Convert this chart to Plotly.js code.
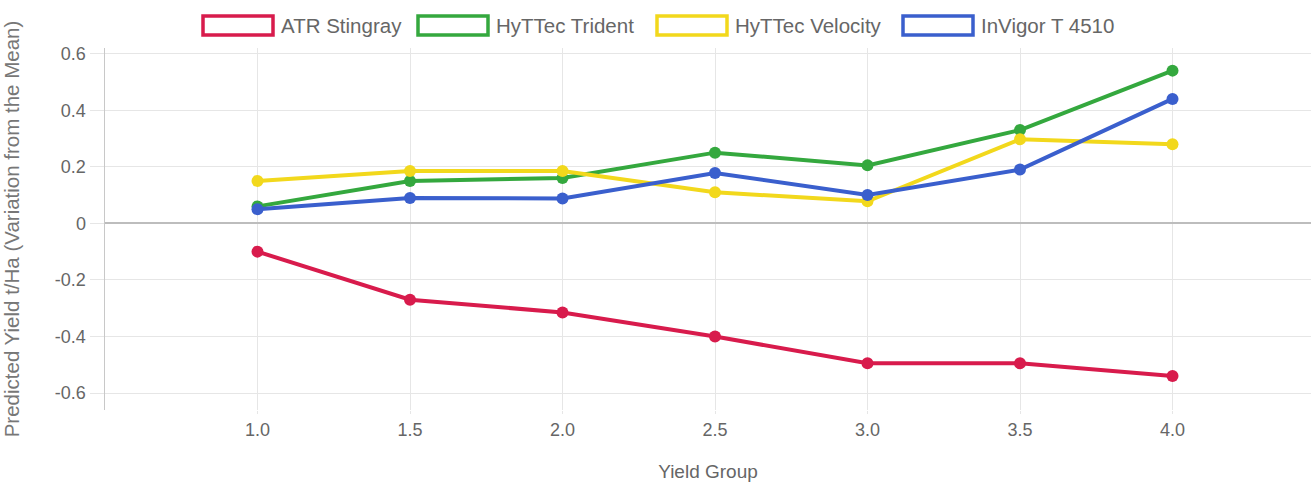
<!DOCTYPE html>
<html>
<head>
<meta charset="utf-8">
<script src="https://cdn.plot.ly/plotly-3.0.1.min.js"></script>
<style>html,body{margin:0;padding:0;background:#fff;}#chart{width:1311px;height:484px;}</style>
</head>
<body>
<div id="chart"></div>
<script>
const yieldGroups = [1.0, 1.5, 2.0, 2.5, 3.0, 3.5, 4.0];
const xTickText = ["1.0", "1.5", "2.0", "2.5", "3.0", "3.5", "4.0"];
const yTickVals = [-0.6, -0.4, -0.2, 0, 0.2, 0.4, 0.6];
const yTickText = ["-0.6", "-0.4", "-0.2", "0", "0.2", "0.4", "0.6"];

const seriesNames = ["ATR Stingray", "HyTTec Trident", "HyTTec Velocity", "InVigor T 4510"];
const seriesColors = ["#d81b4c", "#34a83e", "#f2d81c", "#3a5fcd"];

const atrStingray    = [-0.10, -0.27, -0.315, -0.40, -0.495, -0.495, -0.54];
const hyttecTrident  = [0.06, 0.15, 0.16, 0.25, 0.205, 0.33, 0.54];
const hyttecVelocity = [0.15, 0.185, 0.185, 0.11, 0.078, 0.297, 0.28];
const invigorT4510   = [0.05, 0.09, 0.088, 0.178, 0.10, 0.19, 0.44];

const seriesValues = [atrStingray, hyttecTrident, hyttecVelocity, invigorT4510];

const traces = seriesValues.map((vals, i) => ({
  type: 'scatter',
  mode: 'lines+markers',
  x: yieldGroups,
  y: vals,
  name: seriesNames[i],
  showlegend: false,
  line: {color: seriesColors[i], width: 4},
  marker: {color: seriesColors[i], size: 12}
}));

// plot area geometry (pixels)
const M = {l: 105, r: 0, t: 48, b: 74};
const W = 1311, H = 484;
const pw = W - M.l - M.r, ph = H - M.t - M.b;
const px2x = p => (p - M.l) / pw;
const py2y = p => (H - M.b - p) / ph;

const FONT = 'Liberation Sans, Arial, sans-serif';

// manual Chart.js-style legend
const legendBoxLeft = [203, 418, 657, 903];
const shapes = [];
const annotations = [];
seriesNames.forEach((n, i) => {
  shapes.push({
    type: 'rect', xref: 'paper', yref: 'paper',
    x0: px2x(legendBoxLeft[i]), x1: px2x(legendBoxLeft[i] + 70),
    y0: py2y(35), y1: py2y(16),
    line: {color: seriesColors[i], width: 3.5},
    fillcolor: '#ffffff'
  });
  annotations.push({
    xref: 'paper', yref: 'paper',
    x: px2x(legendBoxLeft[i] + 76), y: py2y(25.5),
    xanchor: 'left', yanchor: 'middle',
    text: n, showarrow: false,
    font: {family: FONT, size: 20.5, color: '#666'}
  });
});

const layout = {
  width: W, height: H,
  margin: M,
  paper_bgcolor: '#fff', plot_bgcolor: '#fff',
  font: {family: FONT, color: '#666', size: 18},
  showlegend: false,
  xaxis: {
    range: [0.5, 0.5 + pw / 305],
    tickvals: yieldGroups, ticktext: xTickText,
    showgrid: true, gridcolor: '#e6e6e6', gridwidth: 1,
    zeroline: false, showline: false,
    ticks: 'outside', ticklen: 3, tickcolor: '#e6e6e6',
    tickfont: {size: 18, color: '#666'},
    title: {text: 'Yield Group', font: {size: 19, color: '#666'}, standoff: 26}
  },
  yaxis: {
    range: [-0.66, 0.62],
    tickvals: yTickVals, ticktext: yTickText,
    showgrid: true, gridcolor: '#e6e6e6', gridwidth: 1,
    zeroline: true, zerolinecolor: '#bdbdbd', zerolinewidth: 2,
    showline: true, linecolor: '#c8c8c8', linewidth: 1.5,
    ticks: 'outside', ticklen: 14, tickcolor: '#e6e6e6',
    tickfont: {size: 18, color: '#666'},
    title: {text: 'Predicted Yield t/Ha (Variation from the Mean)', font: {size: 20.5, color: '#777'}, standoff: 34}
  },
  shapes: shapes,
  annotations: annotations
};

Plotly.newPlot('chart', traces, layout, {displayModeBar: false, staticPlot: true});
</script>
</body>
</html>
